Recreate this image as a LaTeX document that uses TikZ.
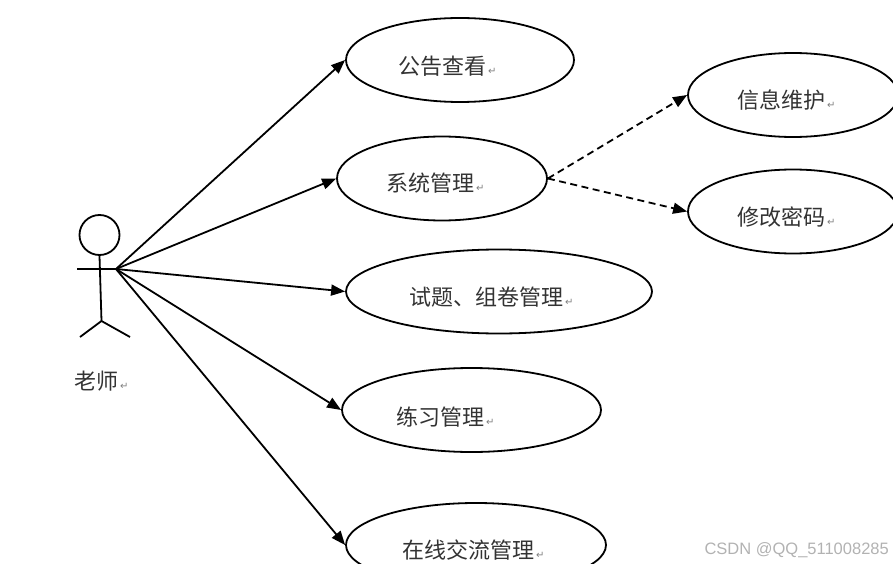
\documentclass[tikz,border=0pt]{standalone}
\usepackage{fontspec}
\setmainfont{Noto Sans CJK SC}[BoldFont=*]
\newfontfamily\markfont{DejaVu Sans}
\newfontfamily\wmfont{Liberation Sans}
\usetikzlibrary{arrows.meta,shapes.geometric}
\newcommand{\retmark}{\hspace{2pt}{\markfont\fontsize{10}{10}\selectfont\textcolor{gray}{↵}}}
\tikzset{
  usecase/.style={draw=black,ellipse,line width=1.8pt,inner sep=0pt,minimum height=84pt},
  caselabel/.style={anchor=west,inner sep=0pt,text=textgray,font=\fontsize{22}{24}\selectfont},
  assoc/.style={line width=1.8pt,-{Triangle[length=14pt,width=11pt]}},
  extend/.style={assoc,dash pattern=on 7pt off 4.5pt}
}
\begin{document}
\begin{tikzpicture}[x=1pt,y=-1pt]
\definecolor{textgray}{HTML}{333333}
\clip (0,0) rectangle (893,564);
% actor
\node[draw=black,circle,line width=1.8pt,inner sep=0pt,minimum size=40pt] (head) at (99.5,235) {};
\coordinate (hip) at (101.5,321);
\coordinate (armend) at (77,269);
\coordinate (hand) at (116,269);
\coordinate (footl) at (80,337);
\coordinate (footr) at (130,337);
\draw[line width=1.8pt] (head.south) -- (hip);
\draw[line width=1.8pt] (armend) -- (hand);
\draw[line width=1.8pt] (footl) -- (hip) -- (footr);
\node[caselabel] (teacher) at (74,381) {老师\retmark};
% use cases
\node[usecase,minimum width=228pt] (notice) at (460,60) {};
\node[usecase,minimum width=210pt] (sysmgr) at (442,178.5) {};
\node[usecase,minimum width=306pt] (exam) at (499,291.5) {};
\node[usecase,minimum width=259pt] (practice) at (471.5,410) {};
\node[usecase,minimum width=260pt] (forum) at (476,545) {};
\node[usecase,minimum width=210pt] (info) at (793,95) {};
\node[usecase,minimum width=210pt] (passwd) at (793,211.5) {};
\node[caselabel] (noticetext) at (398,66) {公告查看\retmark};
\node[caselabel] (sysmgrtext) at (386,183) {系统管理\retmark};
\node[caselabel] (examtext) at (409,297) {试题、组卷管理\retmark};
\node[caselabel] (practicetext) at (396,417) {练习管理\retmark};
\node[caselabel] (forumtext) at (402,550) {在线交流管理\retmark};
\node[caselabel] (infotext) at (737,100) {信息维护\retmark};
\node[caselabel] (passwdtext) at (737,217) {修改密码\retmark};
% connectors
\draw[assoc] (hand) -- (notice.west);
\draw[assoc] (hand) -- (sysmgr.west);
\draw[assoc] (hand) -- (exam.west);
\draw[assoc] (hand) -- (practice.west);
\draw[assoc] (hand) -- (forum.west);
\draw[extend] (sysmgr.east) -- (info.west);
\draw[extend] (sysmgr.east) -- (passwd.west);
\node[anchor=east,inner sep=0pt,text=black!30,font=\wmfont\fontsize{16.5}{18}\selectfont] (watermark) at (889,550) {CSDN @QQ\_511008285};
\end{tikzpicture}
\end{document}
